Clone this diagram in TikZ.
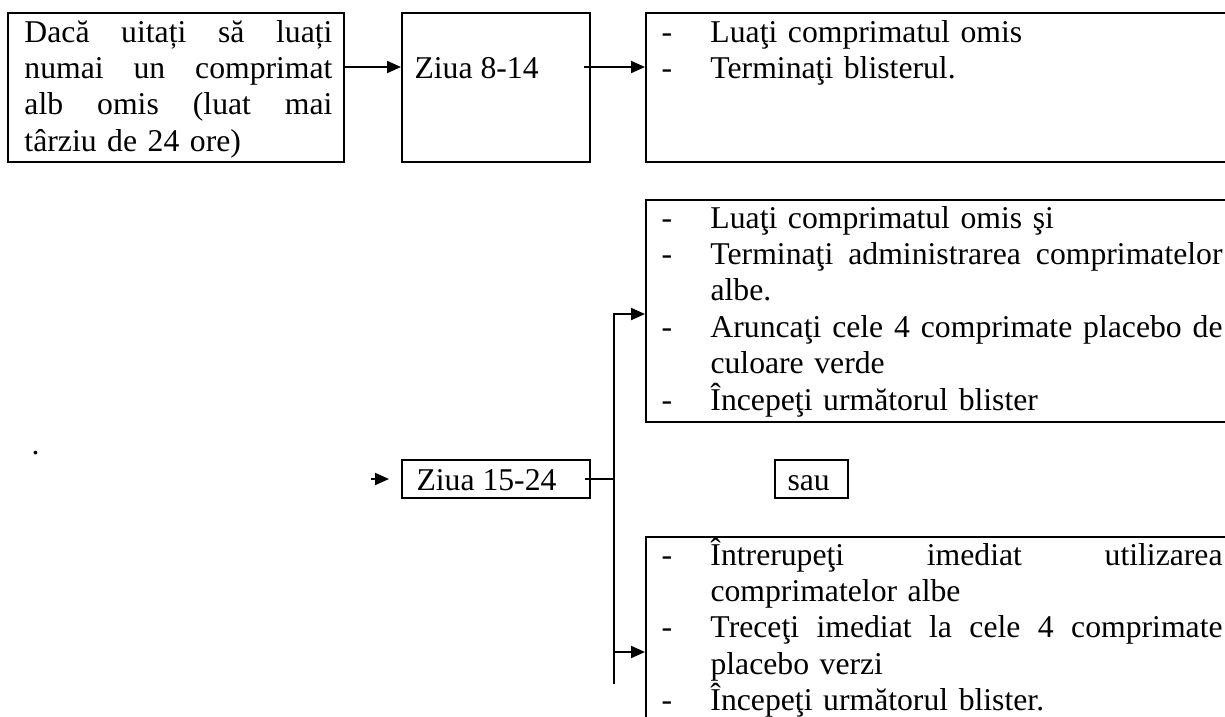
\documentclass[tikz,border=0pt]{standalone}
\usepackage{fontspec}
\setmainfont{Liberation Serif}
\usetikzlibrary{arrows.meta,fit}

\newcommand\dsh{\makebox[19.6pt][l]{-}}
\newcommand\ind{\hspace*{19.6pt}}
\newcommand\jst[1]{{\spaceskip=0pt\xspaceskip=0pt
  \makebox[\dimexpr\linewidth-19.6pt\relax][s]{#1}}}
\newcommand\fl[1]{{\spaceskip=0pt\xspaceskip=0pt
  \makebox[\linewidth][s]{#1}}}

\begin{document}
\begin{tikzpicture}[x=0.4pt,y=-0.4pt,
   frame/.style={draw,line width=0.8pt,inner sep=0pt},
   txt/.style={inner sep=0pt,anchor=base west,align=left,
     font=\fontsize{12.68pt}{14.56pt}\selectfont},
   arr/.style={line width=0.8pt,-{Triangle[length=5.6pt,width=4.8pt]}},
   lnk/.style={line width=0.8pt}]
 \useasboundingbox (0,0) rectangle (1225,716);
 \clip (0,0) rectangle (1225,716);
 % frames
 \node[frame,fit={(8,13) (344,162)}] (box1) {};
 \node[frame,fit={(402,13) (590,162)}] (box2) {};
 \node[frame,fit={(646,13) (1240,162)}] (box3) {};
 \node[frame,fit={(646,200) (1240,422)}] (box4) {};
 \node[frame,fit={(402,460) (590,498)}] (box15) {};
 \node[frame,fit={(775,460) (848,498)}] (boxsau) {};
 \node[frame,fit={(646,537) (1240,760)}] (box5) {};
 % texts
 \node[txt,text width=123.2pt] (t1) at (24,42)
   {\fl{Dacă uitați să luați}\\ \fl{numai un comprimat}\\
    \fl{alb omis (luat mai}\\ târziu de 24 ore)};
 \node[txt] (t2) at (414,78) {Ziua 8-14};
 \node[txt,text width=224.4pt] (t3) at (661,42)
   {\dsh Luaţi comprimatul omis\\ \dsh Terminaţi blisterul.};
 \node[txt,text width=224.4pt] (t4) at (661,228)
   {\dsh Luaţi comprimatul omis şi\\
    \dsh\jst{Terminaţi administrarea comprimatelor}\\
    \ind albe.\\
    \dsh\jst{Aruncaţi cele 4 comprimate placebo de}\\
    \ind culoare verde\\
    \dsh Începeţi următorul blister};
 \node[txt] (t15) at (416,490) {Ziua 15-24};
 \node[txt] (tsau) at (787,490) {sau};
 \node[txt,text width=224.4pt] (t5) at (661,565)
   {\dsh\jst{Întrerupeţi imediat utilizarea}\\
    \ind comprimatelor albe\\
    \dsh\jst{Treceţi imediat la cele 4 comprimate}\\
    \ind placebo verzi\\
    \dsh Începeţi următorul blister.};
 \node[txt] (dot) at (31,454) {.};
 % connectors
 \coordinate (r1) at (0,67);
 \coordinate (b2out) at (584,67);
 \draw[arr] (box1.east |- r1) -- (box2.west |- r1);
 \draw[arr] (b2out) -- (box3.west |- r1);
 \draw[arr] ([xshift=-12pt]box15.west) -- ([xshift=-4.8pt]box15.west);
 \coordinate (fork) at (614,479);
 \coordinate (vtop) at (614,314);
 \coordinate (vbot) at (614,684);
 \coordinate (a5) at (614,652);
 \draw[lnk] ([xshift=-2.4pt]box15.east) -- (fork);
 \draw[arr] (vbot) -- (vtop) -- (box4.west |- vtop);
 \draw[arr] (a5) -- (box5.west |- a5);
\end{tikzpicture}
\end{document}
